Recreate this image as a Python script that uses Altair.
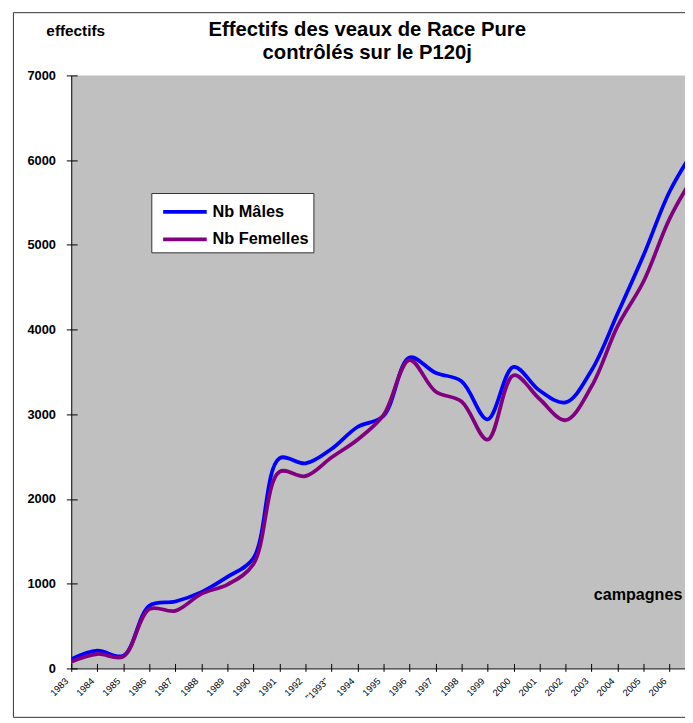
import altair as alt
import pandas as pd

# ---- data ----
years = list(range(1983, 2008))
males = [110, 210, 150, 740, 790, 900, 1080, 1300, 2480, 2420, 2590, 2850, 2980,
         3670, 3490, 3390, 2940, 3560, 3280, 3140, 3520, 4190, 4880, 5630, 6150]
females = [80, 170, 140, 700, 680, 880, 990, 1230, 2320, 2270, 2490, 2700, 2990,
           3640, 3270, 3150, 2700, 3460, 3180, 2930, 3330, 4040, 4570, 5310, 5850]
series_names = ["Nb Mâles", "Nb Femelles"]
series_colors = ["#0000FF", "#800080"]
y_ticks = [0, 1000, 2000, 3000, 4000, 5000, 6000, 7000]
x_ticks = list(range(1983, 2007))
title_lines = ["Effectifs des veaux de Race Pure", "contrôlés sur le P120j"]

rows = []
for i, yr in enumerate(years):
    rows.append({"annee": yr, "serie": series_names[0], "effectif": males[i]})
    rows.append({"annee": yr, "serie": series_names[1], "effectif": females[i]})
df = pd.DataFrame(rows)

FONT = "Liberation Sans"
W, H = 621, 600

xscale = alt.Scale(domain=[1983, 2006.59], nice=False, zero=False)
yscale = alt.Scale(domain=[0, 7000], nice=False)

lines = alt.Chart(df).mark_line(strokeWidth=3.8, interpolate="catmull-rom", clip=True).encode(
    x=alt.X("annee:Q", scale=xscale, axis=alt.Axis(
        orient="bottom", values=x_ticks, format="d",
        labelExpr="datum.value == 1993 ? '\"1993\"' : datum.label",
        labelAngle=-45, labelAlign="right", labelBaseline="middle",
        labelFont=FONT, labelFontSize=9.5, labelColor="black", labelPadding=8,
        labelOffset=-5, labelOverlap=False, labelFlush=False,
        tickSize=3, tickColor="black", domainColor="black", grid=False,
        title="campagnes", titleX=573, titleY=-75, titleAngle=0,
        titleAlign="center", titleBaseline="middle", titleFont=FONT,
        titleFontSize=16.3, titleFontWeight="bold", titleColor="black")),
    y=alt.Y("effectif:Q", scale=yscale, axis=alt.Axis(
        orient="left", values=y_ticks, format="d", grid=False,
        labelFont=FONT, labelFontSize=13, labelFontWeight="bold", labelColor="black",
        labelPadding=11, tickSize=5, tickColor="black", domainColor="black",
        title="effectifs", titleX=4, titleY=-45, titleAngle=0,
        titleAlign="center", titleBaseline="middle", titleFont=FONT,
        titleFontSize=15.5, titleFontWeight="bold", titleColor="black")),
    color=alt.Color("serie:N", scale=alt.Scale(domain=series_names, range=series_colors),
                    legend=alt.Legend(
                        title=None, orient="none", legendX=81, legendY=119,
                        fillColor="white", strokeColor="#333", padding=4,
                        symbolType="M-0.54,0H2.85", symbolSize=676, symbolStrokeWidth=3.8,
                        labelFont=FONT, labelFontSize=16.5, labelFontWeight="bold",
                        labelColor="black", labelOffset=28, rowPadding=4)),
)

inner_ticks = alt.Chart(df).mark_point(opacity=0).encode(
    x=alt.X("annee:Q", scale=xscale, axis=alt.Axis(
        orient="bottom", values=x_ticks, offset=-5, tickSize=5, labels=False,
        domain=False, grid=False, title=None, tickColor="black")),
    y=alt.Y("effectif:Q", scale=yscale, axis=alt.Axis(
        orient="left", values=y_ticks, offset=-6, tickSize=6, labels=False,
        domain=False, grid=False, title=None, tickColor="black")),
)

frame_data = alt.Data(values=[{"k": 1}])
frame_left = alt.Chart(frame_data).mark_rule(color="#333", strokeWidth=1).encode(
    x=alt.value(-58.5), y=alt.value(-63.5), y2=alt.value(649.5))
frame_top = alt.Chart(frame_data).mark_rule(color="#333", strokeWidth=1).encode(
    x=alt.value(-58.5), x2=alt.value(625), y=alt.value(-63.5))
frame_bottom = alt.Chart(frame_data).mark_rule(color="#333", strokeWidth=1).encode(
    x=alt.value(-58.5), x2=alt.value(625), y=alt.value(649.5))

chart = alt.layer(lines, inner_ticks, frame_left, frame_top, frame_bottom).resolve_axis(
    x="independent", y="independent"
).properties(
    width=W, height=H,
    title=alt.Title(title_lines, font=FONT, fontSize=20.5, fontWeight="bold", color="black",
                    anchor="middle", dx=-11, dy=52, offset=0, lineHeight=23),
    autosize=alt.AutoSizeParams(type="none"),
    padding={"left": 64, "top": 64, "right": 0, "bottom": 50},
    background="white",
).configure_view(fill="#C0C0C0", stroke=None)

chart.save("out.html", embed_options={"renderer": "svg", "actions": False})
